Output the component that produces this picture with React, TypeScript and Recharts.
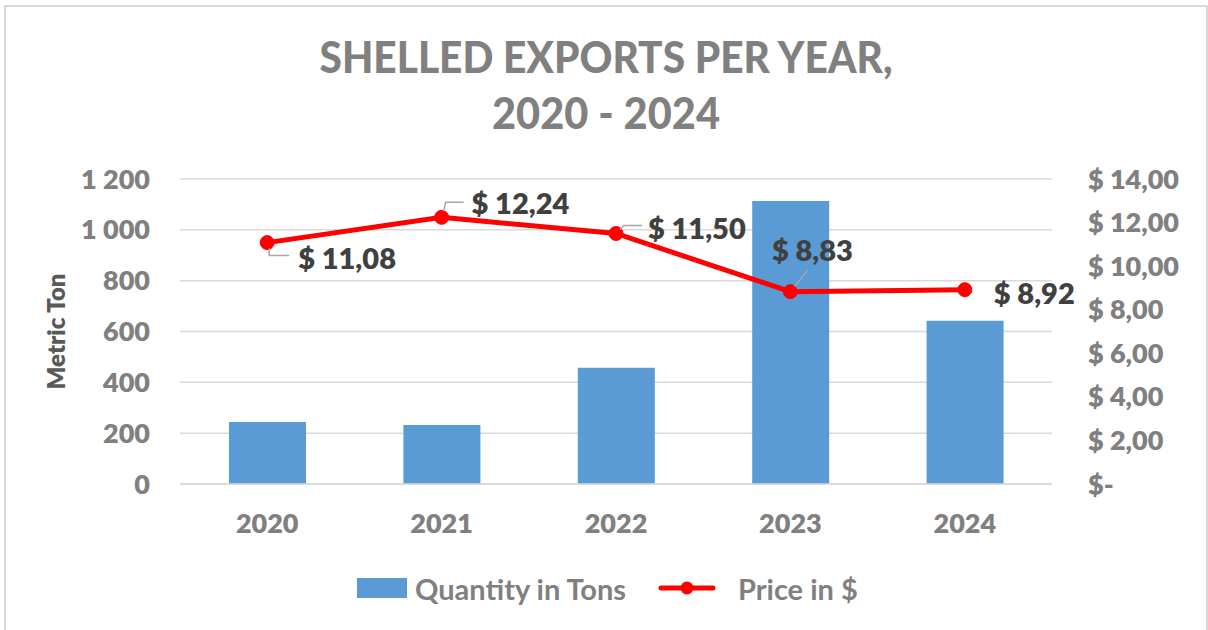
import React from "react";
import {
  ComposedChart,
  Bar,
  Line,
  XAxis,
  YAxis,
  CartesianGrid,
  LabelList,
} from "recharts";

const years = ["2020", "2021", "2022", "2023", "2024"];
const quantityTons = [244, 232, 457, 1113, 642];
const priceUsd = [11.08, 12.24, 11.5, 8.83, 8.92];
const leftTicks = [0, 200, 400, 600, 800, 1000, 1200];
const rightTicks = [0, 2, 4, 6, 8, 10, 12, 14];

const data = years.map((year, i) => ({
  year,
  qty: quantityTons[i],
  price: priceUsd[i],
}));

// label placement per point (offsets from the marker), kept apart from the data
const labelPlacement = [
  { dx: 31, dy: 15, anchor: "start", leader: [[2, 6], [2, 13], [22, 13]] },
  { dx: 30, dy: -15, anchor: "start", leader: [[2, -6], [4, -15], [22, -15]] },
  { dx: 32, dy: -6, anchor: "start", leader: [[4, -4], [8, -8], [26, -8]] },
  { dx: 22, dy: -42, anchor: "middle", leader: [[4, -5], [17, -21]] },
  { dx: 29, dy: 3, anchor: "start", leader: null },
];

const FONT = "Lato, 'Open Sans', sans-serif";
const GRAY = "#808080";

const fmtLeft = (v: number) =>
  v >= 1000 ? `${Math.floor(v / 1000)} ${String(v % 1000).padStart(3, "0")}` : String(v);
const fmtRight = (v: number) => (v === 0 ? "$-" : `$ ${v.toFixed(2).replace(".", ",")}`);

function PriceLabel(props: any) {
  const { x, y, value, index } = props;
  const p = labelPlacement[index];
  if (!p) return null;
  return (
    <g>
      {p.leader && (
        <polyline
          points={p.leader.map(([a, b]) => `${x + a},${y + b}`).join(" ")}
          fill="none"
          stroke="#a6a6a6"
          strokeWidth={1.5}
        />
      )}
      <text
        x={x + p.dx}
        y={y + p.dy}
        textAnchor={p.anchor}
        dominantBaseline="central"
        fontFamily={FONT}
        fontWeight={800}
        fontSize={29}
        fill="#404040"
      >
        {fmtRight(Number(value))}
      </text>
    </g>
  );
}

const legendText: React.CSSProperties = {
  position: "absolute",
  top: 588,
  transform: "translateY(-50%)",
  fontSize: 29,
  fontWeight: 700,
  color: GRAY,
  whiteSpace: "nowrap",
  lineHeight: 1,
};

export default function App() {
  return (
    <div
      style={{
        position: "absolute",
        left: 0,
        top: 0,
        width: 1208,
        height: 630,
        background: "#fff",
        overflow: "hidden",
        fontFamily: FONT,
      }}
    >
      <div
        style={{
          position: "absolute",
          left: 4,
          top: 5,
          width: 1204,
          height: 640,
          border: "2px solid #d9d9d9",
          boxSizing: "border-box",
        }}
      />
      <svg width={1208} height={150} style={{ position: "absolute", left: 0, top: 0 }}>
        <text
          x={606}
          y={73}
          textAnchor="middle"
          textLength={573}
          lengthAdjust="spacingAndGlyphs"
          fontFamily={FONT}
          fontWeight={900}
          fontSize={43}
          fill={GRAY}
        >
          SHELLED EXPORTS PER YEAR,
        </text>
        <text
          x={606}
          y={129}
          textAnchor="middle"
          textLength={228}
          lengthAdjust="spacingAndGlyphs"
          fontFamily={FONT}
          fontWeight={900}
          fontSize={43}
          fill={GRAY}
        >
          2020 - 2024
        </text>
      </svg>

      <div style={{ position: "absolute", left: 0, top: 0 }}>
        <ComposedChart
          width={1208}
          height={630}
          data={data}
          margin={{ top: 179, right: 26, left: 40, bottom: 86 }}
        >
          <CartesianGrid vertical={false} stroke="#d9d9d9" strokeWidth={1.5} yAxisId="qty" />
          <XAxis
            dataKey="year"
            axisLine={{ stroke: "#d9d9d9", strokeWidth: 1.5 }}
            tickLine={false}
            tickSize={0}
            tickMargin={30}
            height={60}
            tick={{ fontSize: 27, fontWeight: 800, fill: GRAY, fontFamily: FONT }}
          />
          <YAxis
            yAxisId="qty"
            orientation="left"
            width={140}
            domain={[0, 1200]}
            ticks={leftTicks}
            tickFormatter={fmtLeft}
            axisLine={false}
            tickLine={false}
            tickSize={0}
            tickMargin={30}
            tick={{ fontSize: 27, fontWeight: 800, fill: GRAY, fontFamily: FONT }}
            label={{
              value: "Metric Ton",
              angle: -90,
              position: "insideLeft",
              offset: 16,
              style: {
                fontSize: 24,
                fontWeight: 800,
                fill: "#595959",
                fontFamily: FONT,
                textAnchor: "middle",
              },
            }}
          />
          <YAxis
            yAxisId="price"
            orientation="right"
            width={130}
            domain={[0, 14]}
            ticks={rightTicks}
            tickFormatter={fmtRight}
            axisLine={false}
            tickLine={false}
            tickSize={0}
            tickMargin={36}
            tick={{ fontSize: 27, fontWeight: 800, fill: GRAY, fontFamily: FONT, textAnchor: "start" }}
          />
          <Bar
            yAxisId="qty"
            dataKey="qty"
            fill="#5b9bd5"
            barSize={77}
            isAnimationActive={false}
          />
          <Line
            yAxisId="price"
            dataKey="price"
            stroke="#ff0000"
            strokeWidth={5}
            dot={{ r: 7, fill: "#ff0000", stroke: "#ff0000", strokeWidth: 1 }}
            activeDot={false}
            isAnimationActive={false}
          >
            <LabelList dataKey="price" content={<PriceLabel />} />
          </Line>
        </ComposedChart>
      </div>

      {/* legend */}
      <div
        style={{
          position: "absolute",
          left: 357,
          top: 578,
          width: 50,
          height: 20,
          background: "#5b9bd5",
        }}
      />
      <span style={{ ...legendText, left: 415 }}>Quantity in Tons</span>
      <svg width={58} height={20} style={{ position: "absolute", left: 658, top: 578 }}>
        <line x1={3} y1={10} x2={55} y2={10} stroke="#ff0000" strokeWidth={5} strokeLinecap="round" />
        <circle cx={29} cy={10} r={6.5} fill="#ff0000" />
      </svg>
      <span style={{ ...legendText, left: 738 }}>Price in $</span>
    </div>
  );
}
